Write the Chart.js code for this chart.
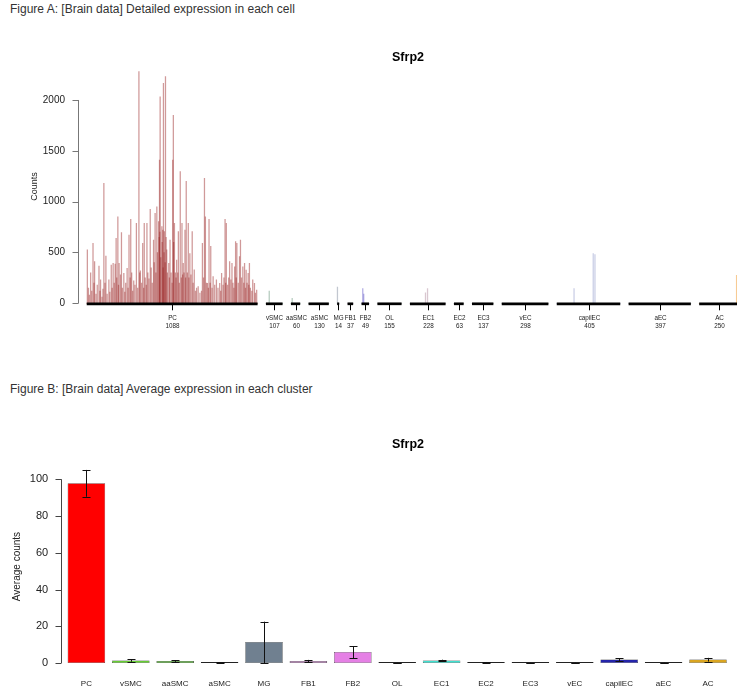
<!DOCTYPE html>
<html>
<head>
<meta charset="utf-8">
<script src="https://cdn.jsdelivr.net/npm/chart.js@4.4.1/dist/chart.umd.min.js"></script>
<style>
  html, body { margin: 0; padding: 0; overflow: hidden; background: #fff; }
  body { width: 737px; height: 692px; position: relative; font-family: "Liberation Sans", Arial, sans-serif; }
  .heading { position: absolute; left: 10px; font-size: 12px; color: #333; white-space: nowrap; }
  canvas { position: absolute; left: 0; }
</style>
</head>
<body>
<div class="heading" style="top:2px">Figure A: [Brain data] Detailed expression in each cell</div>
<canvas id="cellChart" width="745" height="300" style="top:40px"></canvas>
<div class="heading" style="top:382px">Figure B: [Brain data] Average expression in each cluster</div>
<canvas id="clusterChart" width="737" height="272" style="top:420px"></canvas>

<script>
// clusters, in plot order
const groupNames = ['PC', 'vSMC', 'aaSMC', 'aSMC', 'MG', 'FB1', 'FB2', 'OL', 'EC1', 'EC2', 'EC3', 'vEC', 'capilEC', 'aEC', 'AC'];
const cellCounts = [1088, 107, 60, 130, 14, 37, 49, 155, 228, 63, 137, 298, 405, 397, 250];

// figure A: cells with visible counts, [cell index in cluster, counts]; all other cells are 0
const pcCells = [
  [4,525],[11,150],[17,80],[25,300],[32,120],[40,590],[46,200],[50,410],[59,90],[67,180],
  [78,367],[84,120],[88,230],[97,60],[103,140],[109,1180],[116,200],[122,465],[130,90],[141,230],
  [147,110],[156,377],[162,150],[168,393],[175,200],[181,387],[187,640],[191,250],[198,850],[202,180],
  [206,393],[215,280],[221,695],[227,150],[236,295],[242,110],[248,200],[257,345],[263,150],[269,670],
  [276,250],[280,826],[286,300],[292,120],[299,220],[307,180],[316,787],[324,150],[332,2280],[337,300],
  [341,320],[349,200],[356,590],[362,150],[366,787],[372,250],[379,180],[383,787],[389,300],[396,240],
  [404,925],[410,350],[417,200],[425,623],[429,400],[435,885],[440,300],[446,950],[450,500],[457,803],
  [461,650],[463,1410],[465,700],[467,2030],[471,450],[478,754],[480,600],[484,720],[486,350],[488,2165],
  [492,500],[494,705],[499,400],[501,2230],[505,650],[509,525],[513,300],[522,393],[526,250],[530,623],
  [537,300],[543,200],[547,1410],[551,1850],[553,600],[558,787],[564,300],[568,250],[572,426],[579,300],
  [583,705],[589,200],[595,1295],[602,250],[606,787],[610,280],[614,393],[619,300],[625,720],[629,250],
  [633,1200],[640,300],[646,787],[650,250],[656,490],[663,280],[671,705],[677,200],[684,330],[692,120],
  [699,150],[709,165],[720,100],[730,120],[736,590],[743,250],[749,1230],[755,850],[762,200],[768,197],
  [774,150],[778,826],[785,200],[789,560],[797,150],[804,262],[814,180],[825,230],[835,150],[846,197],
  [852,120],[858,295],[867,180],[873,250],[880,826],[884,200],[888,787],[896,180],[903,250],[909,410],
  [917,230],[924,393],[930,200],[936,150],[941,360],[947,606],[951,250],[955,590],[964,200],[972,459],
  [978,623],[985,250],[993,360],[999,200],[1004,393],[1010,150],[1014,328],[1020,200],[1027,295],[1031,180],
  [1035,393],[1041,150],[1050,120],[1056,230],[1067,197],[1073,100],[1081,131]
];
const vsmcCells = [[21,120]];
const aasmcCells = [[8,50]];
const mgCells = [[2,160]];
const fb2Cells = [[8,145],[14,90]];
const ec1Cells = [[99,102],[112,145]];
const capilecCells = [[110,145],[232,490],[243,480]];
const acCells = [[238,276]];
const clusterCells = [pcCells, vsmcCells, aasmcCells, [], mgCells, [], fb2Cells, [], ec1Cells, [], [], [], capilecCells, [], acCells];
const cellTicks = [0, 500, 1000, 1500, 2000];

// figure B: mean counts per cluster and error bar ends
const avgCounts = [97.8, 1.4, 1.1, 0.2, 11.4, 1.1, 6.0, 0.05, 1.4, 0.4, 0.1, 0.1, 1.9, 0.1, 1.9];
const errLow = [90.5, 0.7, 0.6, 0.05, 0, 0.5, 2.5, 0, 1.0, 0.25, 0.05, 0.05, 1.0, 0.05, 0.8];
const errHigh = [105.1, 2.1, 1.6, 0.35, 22.5, 1.7, 9.2, 0.1, 1.8, 0.55, 0.15, 0.15, 2.7, 0.15, 2.8];
const avgTicks = [0, 20, 40, 60, 80, 100];

const cellColors = ['rgba(150,28,28,0.45)', 'rgba(90,140,110,0.45)', 'rgba(90,140,110,0.45)', 'rgba(70,110,70,0.45)',
  'rgba(120,130,150,0.45)', 'rgba(160,110,160,0.45)', 'rgba(100,90,200,0.5)', 'rgba(130,130,130,0.45)',
  'rgba(170,130,150,0.45)', 'rgba(130,130,130,0.45)', 'rgba(130,130,130,0.45)', 'rgba(130,130,130,0.45)',
  'rgba(120,130,190,0.4)', 'rgba(130,130,130,0.45)', 'rgba(240,160,60,0.55)'];
const clusterColors = ['#ff0000', '#66cc33', '#4fb02a', '#2e7d32', '#708090', '#b87bb8', '#e580e5', '#333333',
  '#40e0d0', '#888888', '#333333', '#333333', '#2424aa', '#333333', '#daa520'];

Chart.defaults.font.family = '"Liberation Sans", Arial, sans-serif';
Chart.defaults.color = '#222';

// build the per-cell table: a leading space, then each cluster separated by a gap
const leadSlots = 55, gapSlots = 52;
const slotLabels = [], slotValues = [], slotColors = [], groupSpans = [];
const pushEmpty = n => { for (let i = 0; i < n; i++) { slotLabels.push(''); slotValues.push(null); slotColors.push('#fff'); } };
pushEmpty(leadSlots);
groupNames.forEach((name, g) => {
  if (g > 0) pushEmpty(gapSlots);
  const cells = new Array(cellCounts[g]).fill(0);
  clusterCells[g].forEach(([i, v]) => { cells[i] = v; });
  const start = slotLabels.length;
  cells.forEach(v => { slotLabels.push(''); slotValues.push(v); slotColors.push(cellColors[g]); });
  groupSpans.push([start, slotLabels.length - 1]);
});

// R-like title
const plotTitle = {
  id: 'plotTitle',
  afterDraw(chart, args, opts) {
    const ctx = chart.ctx;
    ctx.save();
    ctx.font = opts.font;
    ctx.fillStyle = '#000';
    ctx.textAlign = 'center';
    ctx.textBaseline = 'middle';
    ctx.fillText(opts.text, opts.x, opts.y);
    ctx.restore();
  }
};

// R-like y axis: line only from first to last tick
const rAxis = {
  id: 'rAxis',
  afterDraw(chart, args, opts) {
    const ctx = chart.ctx, y = chart.scales.y;
    const x0 = Math.round(chart.chartArea.left - opts.offset) + 0.5;
    ctx.save();
    ctx.strokeStyle = opts.color;
    ctx.lineWidth = 1;
    ctx.beginPath();
    ctx.moveTo(x0, y.getPixelForValue(opts.ticks[0]));
    ctx.lineTo(x0, y.getPixelForValue(opts.ticks[opts.ticks.length - 1]));
    opts.ticks.forEach(t => {
      const py = Math.round(y.getPixelForValue(t)) + 0.5;
      ctx.moveTo(x0, py);
      ctx.lineTo(x0 - 6, py);
    });
    ctx.stroke();
    ctx.restore();
  }
};

// figure A: cluster baselines, ticks and names with cell counts
const groupAxis = {
  id: 'groupAxis',
  afterDraw(chart) {
    const ctx = chart.ctx, x = chart.scales.x, y = chart.scales.y;
    const y0 = y.getPixelForValue(0) + 0.5;
    ctx.save();
    ctx.strokeStyle = '#000';
    ctx.fillStyle = '#222';
    ctx.textAlign = 'center';
    ctx.textBaseline = 'middle';
    ctx.font = '6.3px "Liberation Sans", Arial, sans-serif';
    groupSpans.forEach(([s, e], g) => {
      const xs = x.getPixelForValue(s), xe = x.getPixelForValue(e);
      const xm = Math.round((xs + xe) / 2) + 0.5;
      ctx.lineWidth = 2.7;
      ctx.beginPath(); ctx.moveTo(xs, y0); ctx.lineTo(xe, y0); ctx.stroke();
      ctx.lineWidth = 1;
      ctx.beginPath(); ctx.moveTo(xm, y0 + 1); ctx.lineTo(xm, y0 + 6.5); ctx.stroke();
      ctx.fillText(groupNames[g], xm, y0 + 14.5);
      ctx.fillText(String(cellCounts[g]), xm, y0 + 22.5);
    });
    ctx.restore();
  }
};

// figure B: error bars
const errorBars = {
  id: 'errorBars',
  afterDatasetsDraw(chart) {
    const ctx = chart.ctx, y = chart.scales.y, meta = chart.getDatasetMeta(0);
    ctx.save();
    ctx.strokeStyle = '#111';
    ctx.lineWidth = 1;
    meta.data.forEach((bar, i) => {
      const xc = Math.round(bar.x) + 0.5;
      const yl = y.getPixelForValue(errLow[i]), yh = y.getPixelForValue(errHigh[i]);
      ctx.beginPath();
      ctx.moveTo(xc, yl); ctx.lineTo(xc, yh);
      ctx.moveTo(xc - 4, Math.round(yh) + 0.5); ctx.lineTo(xc + 4, Math.round(yh) + 0.5);
      ctx.moveTo(xc - 4, Math.round(yl) + 0.5); ctx.lineTo(xc + 4, Math.round(yl) + 0.5);
      ctx.stroke();
    });
    ctx.restore();
  }
};

new Chart(document.getElementById('cellChart'), {
  type: 'bar',
  data: {
    labels: slotLabels,
    datasets: [{
      data: slotValues,
      backgroundColor: slotColors,
      barThickness: 0.6,
      borderWidth: 0
    }]
  },
  options: {
    responsive: false,
    animation: false,
    layout: { padding: { top: 29.5, right: 6.6, left: 0, bottom: 0 } },
    plugins: {
      legend: { display: false },
      tooltip: { enabled: false },
      plotTitle: { text: 'Sfrp2', x: 408, y: 18, font: 'bold 12.5px "Liberation Sans", Arial, sans-serif' },
      rAxis: { offset: 0, color: '#777', ticks: cellTicks }
    },
    scales: {
      x: {
        ticks: { display: false },
        grid: { display: false, drawTicks: false },
        border: { display: false },
        afterFit: s => { s.height = 36.7; }
      },
      y: {
        min: 0,
        max: 2300,
        afterBuildTicks: s => { s.ticks = cellTicks.map(v => ({ value: v })); },
        ticks: { font: { size: 10 }, padding: 13, color: '#222', callback: v => String(v) },
        grid: { display: false, drawTicks: false },
        border: { display: false },
        title: { display: true, text: 'Counts', font: { size: 9 }, color: '#222', padding: { top: 29.6, bottom: 0 } },
        afterFit: s => { s.width = 78; }
      }
    }
  },
  plugins: [groupAxis, rAxis, plotTitle]
});

new Chart(document.getElementById('clusterChart'), {
  type: 'bar',
  data: {
    labels: groupNames,
    datasets: [{
      data: avgCounts,
      backgroundColor: clusterColors,
      borderColor: '#222',
      borderWidth: 0.5,
      borderSkipped: false,
      minBarLength: 1,
      categoryPercentage: 1,
      barPercentage: 0.845
    }]
  },
  options: {
    responsive: false,
    animation: false,
    layout: { padding: { top: 50.1, right: 6.8, left: 0, bottom: 0 } },
    plugins: {
      legend: { display: false },
      tooltip: { enabled: false },
      plotTitle: { text: 'Sfrp2', x: 408, y: 25, font: 'bold 12.5px "Liberation Sans", Arial, sans-serif' },
      rAxis: { offset: 3.2, color: '#444', ticks: avgTicks }
    },
    scales: {
      x: {
        ticks: { font: { size: 8 }, padding: 16, color: '#222', autoSkip: false, maxRotation: 0 },
        grid: { display: false, drawTicks: false },
        border: { display: false },
        afterFit: s => { s.height = 29; }
      },
      y: {
        min: 0,
        max: 105,
        afterBuildTicks: s => { s.ticks = avgTicks.map(v => ({ value: v })); },
        ticks: { font: { size: 11 }, padding: 16, color: '#222' },
        grid: { display: false, drawTicks: false },
        border: { display: false },
        title: { display: true, text: 'Average counts', font: { size: 10 }, color: '#222', padding: { top: 11.3, bottom: 0 } },
        afterFit: s => { s.width = 64.2; }
      }
    }
  },
  plugins: [errorBars, rAxis, plotTitle]
});
</script>
</body>
</html>
